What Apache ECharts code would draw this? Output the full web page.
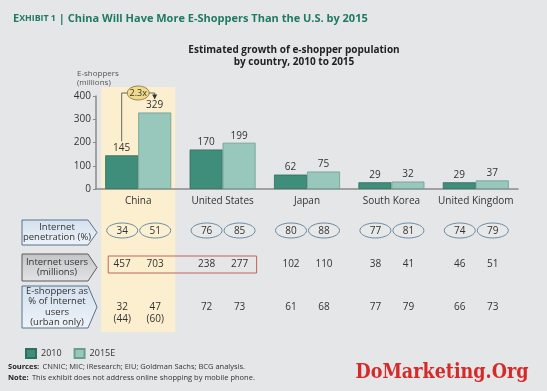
<!DOCTYPE html>
<html><head><meta charset="utf-8">
<script src="https://cdn.jsdelivr.net/npm/echarts@6/dist/echarts.min.js"></script>
<style>html,body{margin:0;padding:0;background:#e5e6e7;}#c{width:547px;height:391px;}</style>
</head><body><div id="c"></div>
<script>
const categories = ['China', 'United States', 'Japan', 'South Korea', 'United Kingdom'];
const shoppers2010 = [145, 170, 62, 29, 29];
const shoppers2015 = [329, 199, 75, 32, 37];
const yTicks = [0, 100, 200, 300, 400];
const penetration2010 = [34, 76, 80, 77, 74];
const penetration2015 = [51, 85, 88, 81, 79];
const users2010 = [457, 238, 102, 38, 46];
const users2015 = [703, 277, 110, 41, 51];
const eshopPct2010 = ['32', '72', '61', '77', '66'];
const eshopPct2015 = ['47', '73', '68', '79', '73'];
const urbanPct2010 = ['(44)', '', '', '', ''];
const urbanPct2015 = ['(60)', '', '', '', ''];
const growthLabel = '2.3x';

const FONT = '"Open Sans", "Noto Sans", sans-serif';
const C2010 = '#3f8d7b', C2015 = '#98c7bb';
const BW = 33;

const chart = echarts.init(document.getElementById('c'), null, {renderer: 'canvas'});
chart.setOption({
  backgroundColor: '#e5e6e7',
  textStyle: {fontFamily: FONT},
  animation: false,
  title: [{
    left: 8, top: 8,
    text: '{a|E}{b|XHIBIT 1}{c| | China Will Have More E-Shoppers Than the U.S. by 2015}',
    textStyle: {
      rich: {
        a: {fontSize: 11, fontWeight: 'bold', color: '#1f7a62', fontFamily: FONT},
        b: {fontSize: 8.8, fontWeight: 'bold', color: '#1f7a62', fontFamily: FONT},
        c: {fontSize: 11, fontWeight: 'bold', color: '#1f7a62', fontFamily: FONT}
      }
    }
  }, {
    left: 289, top: 39, textAlign: 'center',
    text: 'Estimated growth of e-shopper population\nby country, 2010 to 2015',
    textStyle: {fontSize: 10, fontWeight: 'bold', color: '#222', lineHeight: 12, fontFamily: FONT}
  }],
  legend: {
    left: 20, top: 343, itemWidth: 10, itemHeight: 9, itemGap: 12,
    icon: 'rect',
    textStyle: {fontSize: 9, color: '#333', fontFamily: FONT},
    data: ['2010', '2015E']
  },
  grid: {left: 96, right: 29, top: 96, bottom: 202, containLabel: false},
  xAxis: {
    type: 'category', data: categories,
    axisLine: {lineStyle: {color: '#8a8a8a', width: 1.5}},
    axisTick: {show: false},
    axisLabel: {color: '#333', fontSize: 10, margin: 7, interval: 0, fontFamily: FONT}
  },
  yAxis: {
    type: 'value', min: 0, max: 400, interval: 100,
    name: 'E-shoppers\n(millions)', nameLocation: 'end',
    nameTextStyle: {fontSize: 8, color: '#555', align: 'left', lineHeight: 9, padding: [0, 0, 3, -19], fontFamily: FONT},
    nameGap: 6,
    axisLine: {show: true, lineStyle: {color: '#8a8a8a', width: 1.5}},
    axisTick: {show: true, length: 3, lineStyle: {color: '#8a8a8a'}},
    splitLine: {show: false},
    axisLabel: {color: '#333', fontSize: 10, margin: 5, fontFamily: FONT,
      formatter: v => yTicks.includes(v) ? String(v) : ''}
  },
  series: [{
    name: '2010', type: 'bar', data: shoppers2010, barWidth: BW, barGap: '0%',
    itemStyle: {color: C2010, borderColor: '#2f6f60', borderWidth: 0.8},
    label: {show: true, position: 'top', distance: 2, fontSize: 10, color: '#333', fontFamily: FONT},
    z: 3
  }, {
    name: '2015E', type: 'bar', data: shoppers2015, barWidth: BW,
    itemStyle: {color: C2015, borderColor: '#6a9e91', borderWidth: 0.8},
    label: {show: true, position: 'top', distance: 2, fontSize: 10, color: '#333', fontFamily: FONT},
    z: 3
  }]
});

function cx(i) { return chart.convertToPixel({xAxisIndex: 0}, i); }
function py(v) { return chart.convertToPixel({yAxisIndex: 0}, v); }

const g = [];
const chinaX = cx(0);
g.push({type: 'rect', z: -10, silent: true,
  shape: {x: chinaX - 37, y: 87, width: 74, height: 245},
  style: {fill: '#fcefcf'}});

const x1 = chinaX - BW / 2, x2 = chinaX + BW / 2;
const yTop = py(400) - 3;
g.push({type: 'polyline', z: 20, shape: {points: [[x1, py(shoppers2010[0]) - 14], [x1, yTop], [x2, yTop], [x2, py(shoppers2015[0]) - 16]]},
  style: {stroke: '#444', lineWidth: 0.8, fill: null}});
g.push({type: 'polygon', z: 20, shape: {points: [[x2 - 2.5, py(shoppers2015[0]) - 18], [x2 + 2.5, py(shoppers2015[0]) - 18], [x2, py(shoppers2015[0]) - 13]]},
  style: {fill: '#333'}});
g.push({type: 'ellipse', z: 21, shape: {cx: chinaX, cy: yTop, rx: 11, ry: 7},
  style: {fill: '#f1da8b', stroke: '#7d6d35', lineWidth: 0.8}});
g.push({type: 'text', z: 22, style: {text: growthLabel, x: chinaX, y: yTop, align: 'center', verticalAlign: 'middle', font: '9px ' + FONT, fill: '#333'}});

function arrowBox(y0, h, fill1, fill2, stroke, text) {
  const xL = 22, xR = 97, tip = 9;
  g.push({type: 'polygon', z: 5, shape: {points: [[xL, y0], [xR - tip, y0], [xR, y0 + h / 2], [xR - tip, y0 + h], [xL, y0 + h]]},
    style: {fill: new echarts.graphic.LinearGradient(0, 0, 0, 1, [{offset: 0, color: fill1}, {offset: 1, color: fill2}]), stroke: stroke, lineWidth: 1}});
  g.push({type: 'text', z: 6, style: {text: text, x: (xL + xR - tip) / 2 + 2, y: y0 + h / 2, align: 'center', verticalAlign: 'middle', font: '9.5px ' + FONT, fill: '#333', lineHeight: 10.5}});
}
arrowBox(220, 25, '#d3e1ef', '#eef3f8', '#56728e', 'Internet\npenetration (%)');
arrowBox(254, 27, '#c4c5c8', '#e2e3e4', '#5b5b5b', 'Internet users\n(millions)');
arrowBox(286, 42, '#d3e1ef', '#eef3f8', '#56728e', 'E-shoppers as\n% of Internet\nusers\n(urban only)');

function txt(x, y, s) {
  g.push({type: 'text', z: 8, style: {text: s, x: x, y: y, align: 'center', verticalAlign: 'middle', font: '10px ' + FONT, fill: '#333'}});
}
categories.forEach((c, i) => {
  const a = cx(i) - BW / 2 + 0.5, b = cx(i) + BW / 2 + 0.5;
  [[a, penetration2010[i]], [b, penetration2015[i]]].forEach(([x, v]) => {
    g.push({type: 'ellipse', z: 7, shape: {cx: x, cy: 230.5, rx: 15.5, ry: 7.5}, style: {fill: 'rgba(255,255,255,0.08)', stroke: '#6c8aa3', lineWidth: 1}});
    txt(x, 231, String(v));
  });
  txt(a, 264, String(users2010[i]));
  txt(b, 264, String(users2015[i]));
  txt(a, 307, eshopPct2010[i]);
  txt(b, 307, eshopPct2015[i]);
  if (urbanPct2010[i]) txt(a, 319, urbanPct2010[i]);
  if (urbanPct2015[i]) txt(b, 319, urbanPct2015[i]);
});
g.push({type: 'rect', z: 7, shape: {x: cx(0) - 30, y: 256, width: cx(1) - cx(0) + 64, height: 17},
  style: {fill: null, stroke: '#c0645c', lineWidth: 1}});

g.push({type: 'text', z: 8, style: {x: 8, y: 367, verticalAlign: 'middle',
  text: '{b|Sources:} {n|CNNIC; MIC; iResearch; EIU; Goldman Sachs; BCG analysis.}',
  rich: {b: {font: 'bold 7.5px ' + FONT, fill: '#222'}, n: {font: '7.5px ' + FONT, fill: '#333'}}}});
g.push({type: 'text', z: 8, style: {x: 8, y: 378, verticalAlign: 'middle',
  text: '{b|Note:} {n|This exhibit does not address online shopping by mobile phone.}',
  rich: {b: {font: 'bold 7.5px ' + FONT, fill: '#222'}, n: {font: '7.5px ' + FONT, fill: '#333'}}}});
g.push({type: 'text', z: 8, style: {x: 442, y: 373, align: 'center', verticalAlign: 'middle',
  text: 'DoMarketing.Org', font: 'bold 19.5px "DejaVu Serif Condensed", "DejaVu Serif", serif', fill: '#d42a2a'}});

chart.setOption({graphic: {elements: g}});
</script></body></html>
